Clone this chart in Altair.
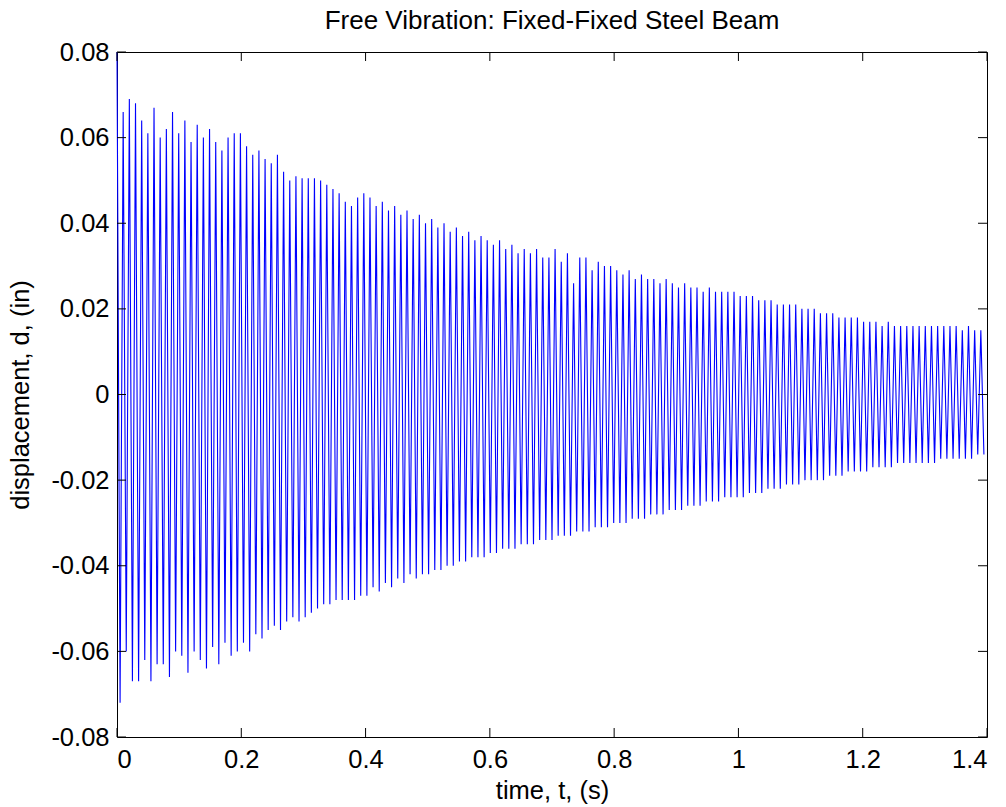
import altair as alt
import pandas as pd

# ---- data (peak / trough of each oscillation cycle) ----
peaks = [
    0.080, 0.066, 0.069, 0.068, 0.064, 0.061, 0.067, 0.060, 0.062, 0.066,
    0.061, 0.064, 0.059, 0.063, 0.060, 0.062, 0.059, 0.057, 0.060, 0.061,
    0.061, 0.058, 0.056, 0.057, 0.055, 0.054, 0.056, 0.052, 0.050, 0.051,
    0.0505, 0.0505, 0.0505, 0.050, 0.049, 0.048, 0.047, 0.045, 0.044, 0.046,
    0.047, 0.046, 0.044, 0.045, 0.043, 0.044, 0.042, 0.043, 0.041, 0.042,
    0.040, 0.041, 0.039, 0.040, 0.038, 0.039, 0.037, 0.038, 0.036, 0.037,
    0.036, 0.035, 0.036, 0.034, 0.035, 0.033, 0.034, 0.033, 0.034, 0.032,
    0.032, 0.034, 0.031, 0.033, 0.026, 0.032, 0.032, 0.029, 0.031, 0.030,
    0.030, 0.029, 0.028, 0.029, 0.027, 0.028, 0.027, 0.027, 0.026, 0.027,
    0.026, 0.025, 0.026, 0.025, 0.025, 0.024, 0.025, 0.024, 0.024, 0.024,
    0.024, 0.023, 0.023, 0.023, 0.022, 0.022, 0.022, 0.021, 0.021, 0.021,
    0.021, 0.020, 0.020, 0.020, 0.019, 0.019, 0.019, 0.018, 0.018, 0.018,
    0.018, 0.017, 0.017, 0.017, 0.016, 0.017, 0.016, 0.016, 0.016, 0.016,
    0.016, 0.016, 0.016, 0.016, 0.016, 0.016, 0.016, 0.015, 0.016, 0.015, 0.015,
]
troughs = [
    -0.072, -0.060, -0.067, -0.067, -0.062, -0.067, -0.063, -0.063, -0.066, -0.060,
    -0.061, -0.065, -0.060, -0.062, -0.064, -0.059, -0.063, -0.058, -0.061, -0.060,
    -0.058, -0.060, -0.056, -0.057, -0.055, -0.054, -0.055, -0.053, -0.052, -0.053,
    -0.052, -0.051, -0.050, -0.049, -0.049, -0.048, -0.048, -0.048, -0.048, -0.047,
    -0.047, -0.045, -0.046, -0.044, -0.045, -0.043, -0.044, -0.042, -0.043, -0.042,
    -0.042, -0.041, -0.041, -0.040, -0.040, -0.039, -0.039, -0.038, -0.038, -0.038,
    -0.037, -0.037, -0.036, -0.036, -0.036, -0.035, -0.035, -0.035, -0.034, -0.034,
    -0.034, -0.033, -0.033, -0.033, -0.032, -0.032, -0.032, -0.031, -0.031, -0.031,
    -0.030, -0.030, -0.030, -0.029, -0.029, -0.029, -0.028, -0.028, -0.028, -0.027,
    -0.027, -0.027, -0.026, -0.026, -0.026, -0.025, -0.025, -0.025, -0.024, -0.024,
    -0.024, -0.024, -0.023, -0.023, -0.023, -0.022, -0.022, -0.022, -0.021, -0.021,
    -0.021, -0.020, -0.020, -0.020, -0.020, -0.019, -0.019, -0.019, -0.018, -0.018,
    -0.018, -0.018, -0.017, -0.017, -0.017, -0.017, -0.016, -0.016, -0.016, -0.016,
    -0.016, -0.016, -0.016, -0.015, -0.015, -0.015, -0.015, -0.015, -0.015, -0.014, -0.014,
]
sample_period = 1.4 / len(peaks)   # one oscillation cycle, s

x_ticks = [0, 0.2, 0.4, 0.6, 0.8, 1.0, 1.2, 1.4]
y_ticks = [-0.08, -0.06, -0.04, -0.02, 0, 0.02, 0.04, 0.06, 0.08]

rows = []
for i, (p, q) in enumerate(zip(peaks, troughs)):
    rows.append({"t": i * sample_period, "d": p, "k": 2 * i})
    rows.append({"t": (i + 0.5) * sample_period, "d": q, "k": 2 * i + 1})
df = pd.DataFrame(rows)

W, H = 870, 685
FONT = "Liberation Sans"
FS = 25.5

xscale = alt.Scale(domain=[0, 1.4], nice=False, zero=False)
yscale = alt.Scale(domain=[-0.08, 0.08], nice=False, zero=False)
x_axis = alt.Axis(values=x_ticks, title="time, t, (s)",
                  labelExpr="'' + datum.value", labelPadding=10, titlePadding=6)
y_axis = alt.Axis(values=y_ticks, title="displacement, d, (in)",
                  labelExpr="'' + datum.value", labelPadding=8, titlePadding=17)

line = alt.Chart(df).mark_line(color="#0000FF", strokeWidth=1.1).encode(
    x=alt.X("t:Q", scale=xscale, axis=x_axis),
    y=alt.Y("d:Q", scale=yscale, axis=y_axis),
    order="k:Q",
)

xt = pd.DataFrame({"t": x_ticks})
yt = pd.DataFrame({"d": y_ticks})
TL = 9
xt_bottom = alt.Chart(xt).mark_rule(color="black", strokeWidth=1).encode(
    x=alt.X("t:Q", scale=xscale, axis=x_axis), y=alt.value(H), y2=alt.value(H - TL))
xt_top = alt.Chart(xt).mark_rule(color="black", strokeWidth=1).encode(
    x=alt.X("t:Q", scale=xscale, axis=x_axis), y=alt.value(0), y2=alt.value(TL))
yt_left = alt.Chart(yt).mark_rule(color="black", strokeWidth=1).encode(
    y=alt.Y("d:Q", scale=yscale, axis=y_axis), x=alt.value(0), x2=alt.value(TL))
yt_right = alt.Chart(yt).mark_rule(color="black", strokeWidth=1).encode(
    y=alt.Y("d:Q", scale=yscale, axis=y_axis), x=alt.value(W), x2=alt.value(W - TL))

chart = alt.layer(line, xt_bottom, xt_top, yt_left, yt_right).properties(
    width=W, height=H,
    background="white",
    title=alt.TitleParams("Free Vibration: Fixed-Fixed Steel Beam", font=FONT,
                          fontSize=26, fontWeight="normal", color="black",
                          anchor="middle", offset=6),
    padding={"left": 117, "top": 52, "right": 19, "bottom": 70},
    autosize=alt.AutoSizeParams(type="none"),
).configure_view(
    stroke="black", strokeWidth=1
).configure_axis(
    domain=False, ticks=False, grid=False,
    labelFont=FONT, labelFontSize=FS, labelColor="black",
    titleFont=FONT, titleFontSize=FS, titleFontWeight="normal", titleColor="black",
)

chart.save("out.html", embed_options={"renderer": "svg", "actions": False})
